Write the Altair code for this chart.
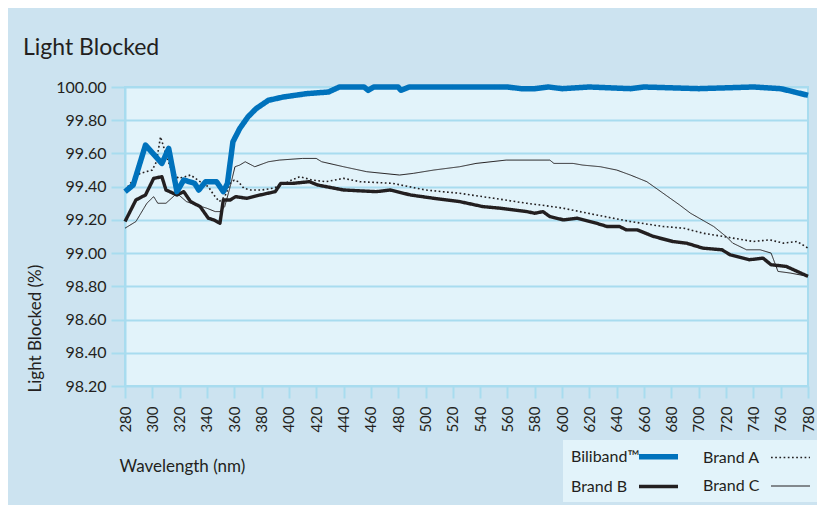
import altair as alt
import pandas as pd

series_names = ["Biliband™", "Brand A", "Brand B", "Brand C"]

bili_wl = [280, 286, 295, 307, 312, 318, 323, 331, 334, 339, 347, 352, 355, 359, 364, 370,
           376, 385, 396, 413, 429, 437, 455, 458, 462, 480, 482, 488, 560, 570, 580, 590,
           600, 620, 650, 660, 700, 740, 760, 770, 780]
bili_val = [99.37, 99.41, 99.65, 99.54, 99.63, 99.37, 99.44, 99.42, 99.38, 99.43, 99.43, 99.37,
            99.42, 99.67, 99.75, 99.82, 99.87, 99.92, 99.94, 99.96, 99.97, 100.00, 100.00, 99.98,
            100.00, 100.00, 99.98, 100.00, 100.00, 99.99, 99.99, 100.00, 99.99, 100.00, 99.99,
            100.00, 99.99, 100.00, 99.99, 99.97, 99.95]

a_wl = [280, 285, 291, 300, 303, 306, 309, 313, 319, 324, 328, 335, 341, 345, 349, 353, 357,
        360, 363, 367, 372, 380, 388, 395, 402, 408, 417, 427, 440, 452, 476, 500, 525, 550,
        574, 584, 601, 625, 650, 674, 689, 703, 718, 740, 752, 762, 772, 780]
a_val = [99.38, 99.43, 99.48, 99.50, 99.55, 99.70, 99.62, 99.52, 99.45, 99.46, 99.47, 99.43,
         99.40, 99.35, 99.31, 99.34, 99.42, 99.44, 99.43, 99.39, 99.38, 99.38, 99.39, 99.41,
         99.44, 99.46, 99.44, 99.43, 99.45, 99.43, 99.42, 99.38, 99.36, 99.33, 99.30, 99.29,
         99.27, 99.23, 99.19, 99.16, 99.15, 99.12, 99.10, 99.07, 99.08, 99.06, 99.07, 99.03]

b_wl = [280, 288, 295, 301, 307, 310, 318, 323, 328, 335, 341, 345, 349.5, 352, 357, 361,
        369, 379, 390, 394, 403, 415, 421, 440, 464, 474, 489, 506, 525, 542, 555, 574, 580,
        586, 591, 601, 611, 625, 633, 642, 647, 655, 667, 681, 691, 703, 717, 723, 737, 747,
        753, 764, 772, 780]
b_val = [99.19, 99.32, 99.35, 99.45, 99.46, 99.38, 99.35, 99.37, 99.31, 99.28, 99.21, 99.20,
         99.18, 99.32, 99.32, 99.34, 99.33, 99.35, 99.37, 99.42, 99.42, 99.43, 99.41, 99.38,
         99.37, 99.38, 99.35, 99.33, 99.31, 99.28, 99.27, 99.25, 99.24, 99.25, 99.22, 99.20,
         99.21, 99.18, 99.16, 99.16, 99.14, 99.14, 99.10, 99.07, 99.06, 99.03, 99.02, 98.99,
         98.96, 98.97, 98.93, 98.92, 98.89, 98.86]

c_wl = [280, 288, 296, 301, 304, 310, 314, 318, 325, 332, 340, 346, 349.5, 353, 357, 360.5,
        364, 368, 375, 385, 393, 410, 420, 424, 440, 457, 481, 491, 506, 525, 537, 559, 591,
        594, 608, 615, 628, 640, 650, 662, 674, 686, 694, 711, 720, 725, 735, 745, 753, 758,
        767, 780]
c_val = [99.15, 99.19, 99.30, 99.34, 99.30, 99.30, 99.33, 99.36, 99.31, 99.29, 99.27, 99.25,
         99.25, 99.28, 99.40, 99.52, 99.53, 99.55, 99.52, 99.55, 99.56, 99.57, 99.57, 99.55,
         99.52, 99.49, 99.47, 99.48, 99.50, 99.52, 99.54, 99.56, 99.56, 99.54, 99.54, 99.53,
         99.52, 99.50, 99.47, 99.43, 99.36, 99.29, 99.24, 99.16, 99.10, 99.06, 99.02, 99.02,
         99.00, 98.89, 98.88, 98.86]

x_ticks = list(range(280, 781, 20))
y_ticks = [98.2, 98.4, 98.6, 98.8, 99.0, 99.2, 99.4, 99.6, 99.8, 100.0]

series_data = {
    "Biliband™": (bili_wl, bili_val),
    "Brand A": (a_wl, a_val),
    "Brand B": (b_wl, b_val),
    "Brand C": (c_wl, c_val),
}
rows = []
for name, (wl, vals) in series_data.items():
    for w, v in zip(wl, vals):
        rows.append({"series": name, "wl": w, "val": v})
df = pd.DataFrame(rows)

GRID = "#a8dcef"
TEXT = "#231f20"
FONT = "Lato"

x = alt.X(
    "wl:Q",
    scale=alt.Scale(domain=[280, 780], nice=False, zero=False),
    axis=alt.Axis(
        values=x_ticks, grid=False, domain=False, tickColor=GRID, tickWidth=2, tickSize=12,
        labelAngle=270, labelFont=FONT, labelFontSize=15, labelColor=TEXT, labelPadding=8,
        labelFlush=False, labelOverlap=False,
        title="Wavelength (nm)", titleFont=FONT, titleFontSize=17, titleFontWeight="normal",
        titleColor=TEXT, titleX=-6, titleY=85, titleAlign="left", titleBaseline="alphabetic",
    ),
)
y = alt.Y(
    "val:Q",
    scale=alt.Scale(domain=[98.2, 100], nice=False, zero=False),
    axis=alt.Axis(
        values=y_ticks, format=".2f", grid=True, gridColor=GRID, gridWidth=2,
        domain=True, domainColor=GRID, domainWidth=2, tickColor=GRID, tickWidth=2, tickSize=14,
        labelFont=FONT, labelFontSize=16, labelColor=TEXT, labelPadding=5, labelFlush=False,
        title="Light Blocked (%)", titleFont=FONT, titleFontSize=17, titleFontWeight="normal",
        titleColor=TEXT, titleAngle=270, titleAlign="left", titleBaseline="alphabetic",
        titleX=-85, titleY=305,
    ),
)

legend = alt.Legend(
    title=None, orient="none", legendX=438, legendY=353, columns=2, direction="horizontal",
    fillColor="#e2f3fa", padding=7, labelFont=FONT, labelFontSize=16, labelColor=TEXT,
    symbolType="M-3,0H3", symbolSize=169, symbolOffset=79, labelOffset={"expr": "-97"},
    rowPadding=10, columnPadding=13, labelAlign="left",
)

color = alt.Color("series:N", scale=alt.Scale(domain=series_names,
                  range=["#0072bc", TEXT, TEXT, TEXT]), legend=legend)
dash = alt.StrokeDash("series:N", scale=alt.Scale(domain=series_names,
                      range=[[1, 0], [1.7, 2.5], [1, 0], [1, 0]]), legend=legend)
width = alt.StrokeWidth("series:N", scale=alt.Scale(type="ordinal", domain=series_names,
                        range=[5.5, 1.6, 3.4, 1.0]), legend=legend)

base = alt.Chart(df).mark_line(strokeJoin="round").encode(
    x=x, y=y, color=color, strokeDash=dash, strokeWidth=width, order="wl:Q"
)

layers = [base.transform_filter(alt.datum.series == s)
          for s in ["Brand C", "Brand A", "Brand B", "Biliband™"]]

chart = alt.layer(*layers).properties(
    width=683, height=299,
    padding={"left": 117, "top": 79, "right": 9, "bottom": 119},
    autosize=alt.AutoSizeParams(type="none"),
    background="#cce3f0",
    title=alt.TitleParams(
        "Light Blocked", anchor="start", frame="group", dx=-102, dy=33, fontSize=23,
        font=FONT, fontWeight="normal", color=TEXT, offset=34, baseline="alphabetic",
    ),
).configure_view(fill="#e2f3fa", stroke=GRID, strokeWidth=2)

chart.save("out.html", embed_options={"renderer": "svg", "actions": False})
